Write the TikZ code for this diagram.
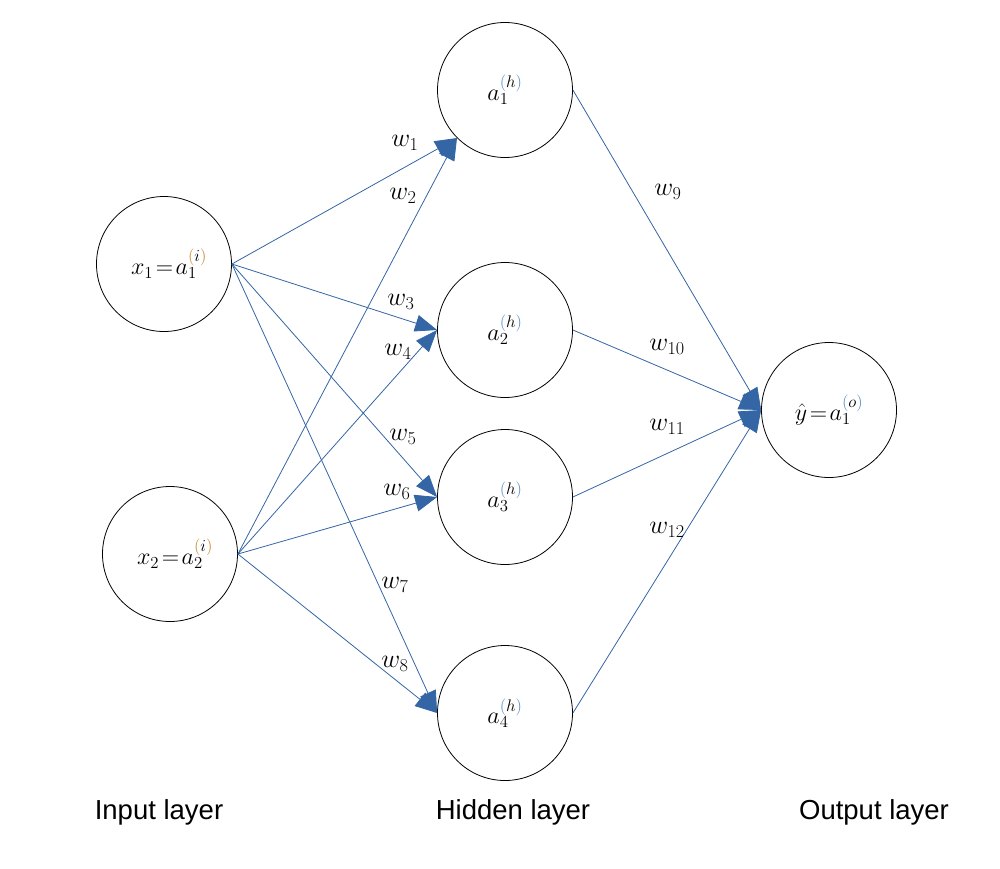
\RequirePackage{fix-cm}
\documentclass[tikz,border=0pt]{standalone}
\usepackage{fontspec}
\setmainfont{Liberation Serif}
\setsansfont{Liberation Sans}
\usetikzlibrary{arrows.meta}
\definecolor{edgeblue}{HTML}{3465A4}
\definecolor{parI}{HTML}{C9852E}
\definecolor{parH}{HTML}{5B8BC9}
\newcommand{\supI}[1]{{\color{parI}(}#1{\color{parI})}}
\newcommand{\supH}[1]{{\color{parH}(}#1{\color{parH})}}
\begin{document}
\begin{tikzpicture}[x=1pt,y=-1pt,
  neuron/.style={circle,draw=black,line width=0.8pt,minimum size=135pt,inner sep=0pt,font=\fontsize{24}{28}\selectfont},
  conn/.style={draw=edgeblue,line width=0.8pt,-{Triangle[length=22pt,width=17pt]}},
  wlab/.style={font=\fontsize{26}{30}\selectfont,inner sep=0pt},
  layer/.style={font=\sffamily\fontsize{27.5}{32}\selectfont,inner sep=0pt}]
\useasboundingbox (0,0) rectangle (1000,868);
% neurons
\node[neuron] (x1) at (164,264) {\hspace{10pt}$x_1\!=\!a_1^{\supI{i}}$};
\node[neuron] (x2) at (170,554) {\hspace{10pt}$x_2\!=\!a_2^{\supI{i}}$};
\node[neuron] (h1) at (505,90) {$a_1^{\supH{h}}$};
\node[neuron] (h2) at (505,330) {$a_2^{\supH{h}}$};
\node[neuron] (h3) at (505,497) {$a_3^{\supH{h}}$};
\node[neuron] (h4) at (505,713) {$a_4^{\supH{h}}$};
\node[neuron] (o) at (829,410) {$\hat{y}\!=\!a_1^{\supH{o}}$};
% connections
\draw[conn] (x1.east) -- (h1.225);
\draw[conn] (x2.east) -- (h1.225);
\draw[conn] (x1.east) -- (h2.west);
\draw[conn] (x2.east) -- (h2.west);
\draw[conn] (x1.east) -- (h3.west);
\draw[conn] (x2.east) -- (h3.west);
\draw[conn] (x1.east) -- (h4.west);
\draw[conn] (x2.east) -- (h4.west);
\draw[conn] (h1.east) -- (o.west);
\draw[conn] (h2.east) -- (o.west);
\draw[conn] (h3.east) -- (o.west);
\draw[conn] (h4.east) -- (o.west);
% weight labels
\node[wlab] (w1) at (405,143) {$w_1$};
\node[wlab] (w2) at (403,196) {$w_2$};
\node[wlab] (w3) at (401,302) {$w_3$};
\node[wlab] (w4) at (398,352) {$w_4$};
\node[wlab] (w5) at (403,437) {$w_5$};
\node[wlab] (w6) at (397,492) {$w_6$};
\node[wlab] (w7) at (395,585) {$w_7$};
\node[wlab] (w8) at (395,664) {$w_8$};
\node[wlab] (w9) at (668,192) {$w_9$};
\node[wlab] (w10) at (667,347) {$w_{10}$};
\node[wlab] (w11) at (667,427) {$w_{11}$};
\node[wlab] (w12) at (667,530) {$w_{12}$};
% layer labels
\node[layer] (li) at (159,812) {Input layer};
\node[layer] (lh) at (513,812) {Hidden layer};
\node[layer] (lo) at (874,812) {Output layer};
\end{tikzpicture}
\end{document}
